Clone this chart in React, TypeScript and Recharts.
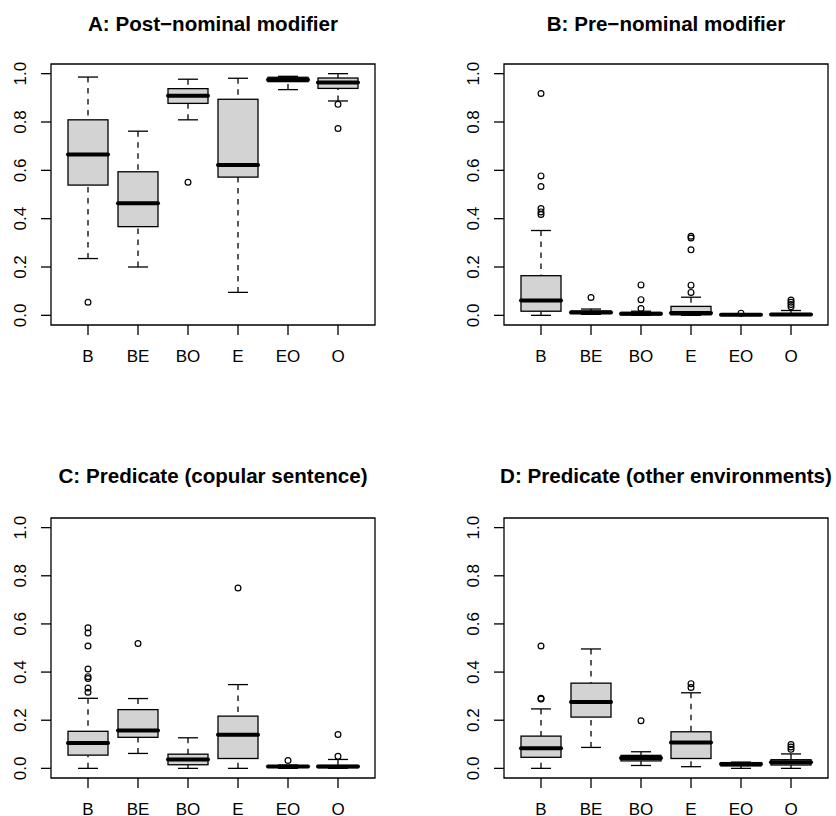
import { ComposedChart, Bar, Scatter, XAxis, YAxis, ReferenceArea } from "recharts"

const groups = ["B", "BE", "BO", "E", "EO", "O"]
const groupPos = [1, 2, 3, 4, 5, 6]
const yTicks = [0, 0.2, 0.4, 0.6, 0.8, 1]

// each row: [lower whisker, q1, median, q3, upper whisker]
const postNominalStats = [
  [0.235, 0.539, 0.666, 0.809, 0.986],
  [0.2, 0.367, 0.464, 0.594, 0.762],
  [0.809, 0.877, 0.909, 0.938, 0.977],
  [0.095, 0.572, 0.622, 0.894, 0.981],
  [0.934, 0.967, 0.975, 0.985, 0.989],
  [0.887, 0.939, 0.963, 0.982, 1.0],
]
const postNominalOut = [[0.054], [], [0.551], [], [], [0.873, 0.773]]

const preNominalStats = [
  [0, 0.017, 0.061, 0.164, 0.351],
  [0.004, 0.008, 0.012, 0.018, 0.026],
  [0, 0.002, 0.007, 0.012, 0.017],
  [0, 0.002, 0.01, 0.037, 0.075],
  [0, 0, 0.002, 0.004, 0.006],
  [0, 0, 0.003, 0.007, 0.02],
]
const preNominalOut = [
  [0.918, 0.577, 0.533, 0.442, 0.428, 0.417],
  [0.074],
  [0.126, 0.065, 0.028],
  [0.327, 0.32, 0.271, 0.125, 0.095],
  [0.009],
  [0.063, 0.054, 0.045, 0.036],
]

const copularStats = [
  [0, 0.055, 0.105, 0.154, 0.291],
  [0.062, 0.129, 0.157, 0.244, 0.29],
  [0, 0.015, 0.037, 0.059, 0.127],
  [0, 0.041, 0.14, 0.217, 0.348],
  [0, 0.004, 0.008, 0.011, 0.014],
  [0, 0.003, 0.008, 0.012, 0.037],
]
const copularOut = [
  [0.584, 0.562, 0.508, 0.413, 0.381, 0.373, 0.334, 0.316],
  [0.519],
  [],
  [0.749],
  [0.033],
  [0.141, 0.05],
]

const otherStats = [
  [0, 0.046, 0.084, 0.134, 0.247],
  [0.087, 0.213, 0.276, 0.354, 0.496],
  [0.012, 0.031, 0.043, 0.054, 0.069],
  [0.007, 0.041, 0.107, 0.152, 0.314],
  [0, 0.01, 0.018, 0.024, 0.026],
  [0, 0.014, 0.025, 0.036, 0.06],
]
const otherOut = [[0.508, 0.291, 0.288], [], [0.198], [0.352, 0.336], [], [0.099, 0.089, 0.079]]

const FONT = '"Liberation Sans", Arial, Helvetica, sans-serif'
const LW = 1.3
const TICK_FONT = 17

function makeRows(stats: number[][]) {
  return stats.map((s, i) => ({
    pos: groupPos[i],
    range: [s[0], s[4]],
    lo: s[0],
    q1: s[1],
    med: s[2],
    q3: s[3],
    hi: s[4],
  }))
}

function makeOutliers(out: number[][]) {
  return out.flatMap((vals, i) => vals.map((v) => ({ pos: groupPos[i], v })))
}

// whole box + whiskers drawn from the range bar (lo..hi), other stats placed linearly inside it
function BoxShape(props: any) {
  const { x, y, width, height, payload } = props
  const { lo, q1, med, q3, hi } = payload
  const span = hi - lo
  const py = (v: number) => (span > 0 ? y + (height * (hi - v)) / span : y)
  const cx = x + width / 2
  const half = width / 2
  const cap = width / 4
  return (
    <g>
      <line x1={cx} x2={cx} y1={py(lo)} y2={py(q1)} stroke="#000" strokeWidth={LW} strokeDasharray="5.5 5.5" />
      <line x1={cx} x2={cx} y1={py(hi)} y2={py(q3)} stroke="#000" strokeWidth={LW} strokeDasharray="5.5 5.5" />
      <line x1={cx - cap} x2={cx + cap} y1={py(lo)} y2={py(lo)} stroke="#000" strokeWidth={LW} />
      <line x1={cx - cap} x2={cx + cap} y1={py(hi)} y2={py(hi)} stroke="#000" strokeWidth={LW} />
      <rect x={cx - half} y={py(q3)} width={width} height={py(q1) - py(q3)} fill="#D3D3D3" stroke="#000" strokeWidth={LW} />
      <line x1={cx - half} x2={cx + half} y1={py(med)} y2={py(med)} stroke="#000" strokeWidth={4} strokeLinecap="round" />
    </g>
  )
}

function OutlierDot(props: any) {
  const { cx, cy } = props
  return <circle cx={cx} cy={cy} r={2.9} fill="none" stroke="#000" strokeWidth={1.2} />
}

function XTick(props: any) {
  const { x, y, payload } = props
  return (
    <text x={x} y={y + 26.6} textAnchor="middle" fontSize={TICK_FONT} fontFamily={FONT} fill="#000">
      {groups[payload.value - 1]}
    </text>
  )
}

// R style: labels parallel to the axis, reading upwards
function YTick(props: any) {
  const { x, y, payload } = props
  return (
    <g transform={`translate(${x - 15} ${y}) rotate(-90)`}>
      <text x={0} y={0} textAnchor="middle" fontSize={TICK_FONT} fontFamily={FONT} fill="#000">
        {payload.value.toFixed(1)}
      </text>
    </g>
  )
}

type PanelProps = {
  title: string
  stats: number[][]
  outliers: number[][]
  left: number
  top: number
  margin: { top: number; right: number; bottom: number; left: number }
  xAxisHeight: number
  titleTop: number
}

function Panel({ title, stats, outliers, left, top, margin, xAxisHeight, titleTop }: PanelProps) {
  const rows = makeRows(stats)
  const pts = makeOutliers(outliers)
  const titleCenter = margin.left + 40 + 162
  return (
    <div style={{ position: "absolute", left, top, width: 418, height: 408 }}>
      <div
        style={{
          position: "absolute",
          left: titleCenter - 300,
          top: titleTop,
          width: 600,
          textAlign: "center",
          fontFamily: FONT,
          fontWeight: "bold",
          fontSize: 20.6,
          lineHeight: "20px",
          whiteSpace: "nowrap",
        }}
      >
        {title}
      </div>
      <ComposedChart width={418} height={408} data={rows} margin={margin}>
        <XAxis
          dataKey="pos"
          type="number"
          domain={[0.26, 6.74]}
          allowDataOverflow
          ticks={groupPos}
          interval={0}
          height={xAxisHeight}
          tickSize={10}
          tickMargin={0}
          axisLine={false}
          tickLine={{ stroke: "#000", strokeWidth: LW }}
          tick={XTick}
        />
        <YAxis
          type="number"
          domain={[-0.04, 1.04]}
          allowDataOverflow
          ticks={yTicks}
          interval={0}
          width={40}
          tickSize={10}
          tickMargin={0}
          axisLine={false}
          tickLine={{ stroke: "#000", strokeWidth: LW }}
          tick={YTick}
        />
        <ReferenceArea x1={0.26} x2={6.74} y1={-0.04} y2={1.04} fill="none" stroke="#000" strokeWidth={LW} ifOverflow="visible" />
        <Bar dataKey="range" barSize={40} shape={BoxShape} isAnimationActive={false} />
        <Scatter data={pts} dataKey="v" shape={OutlierDot} isAnimationActive={false} />
      </ComposedChart>
    </div>
  )
}

export default function App() {
  return (
    <div style={{ position: "absolute", left: 0, top: 0, width: 836, height: 816, overflow: "hidden", background: "#fff" }}>
      <Panel
        title="A: Post−nominal modifier"
        stats={postNominalStats}
        outliers={postNominalOut}
        left={0}
        top={0}
        margin={{ top: 64, right: 43, bottom: 0, left: 11 }}
        xAxisHeight={83}
        titleTop={14}
      />
      <Panel
        title="B: Pre−nominal modifier"
        stats={preNominalStats}
        outliers={preNominalOut}
        left={418}
        top={0}
        margin={{ top: 64, right: 8, bottom: 0, left: 46 }}
        xAxisHeight={83}
        titleTop={14}
      />
      <Panel
        title="C: Predicate (copular sentence)"
        stats={copularStats}
        outliers={copularOut}
        left={0}
        top={408}
        margin={{ top: 110, right: 43, bottom: 0, left: 11 }}
        xAxisHeight={38}
        titleTop={57.5}
      />
      <Panel
        title="D: Predicate (other environments)"
        stats={otherStats}
        outliers={otherOut}
        left={418}
        top={408}
        margin={{ top: 110, right: 8, bottom: 0, left: 46 }}
        xAxisHeight={38}
        titleTop={57.5}
      />
    </div>
  )
}
